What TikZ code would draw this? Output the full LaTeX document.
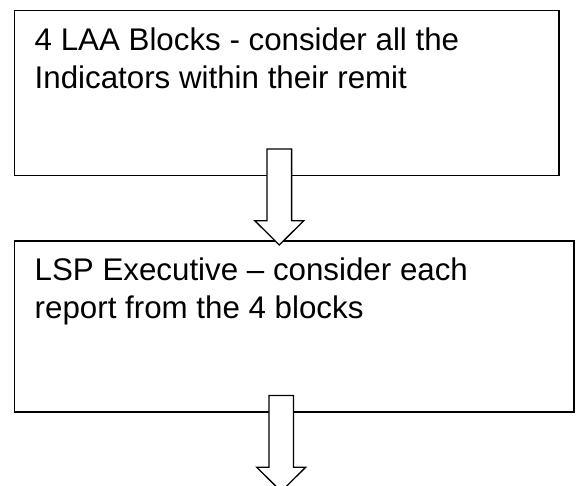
\documentclass[tikz,border=0pt]{standalone}
\usepackage{fontspec}
\setmainfont{Liberation Sans}
\begin{document}
\begin{tikzpicture}[x=1pt,y=1pt,
  boxnode/.style={draw=black,line width=1.6pt,fill=white,rectangle,inner sep=0pt},
  textnode/.style={anchor=base west,align=left,inner sep=0pt,font=\fontsize{31.3}{38.2}\selectfont},
  downarrow/.pic={\draw[line width=1.3pt,fill=white,line join=miter]
     (0,0) -- (-24.5,24.3) -- (-12.3,24.3) -- (-12.3,96) -- (12.3,96) -- (12.3,24.3) -- (24.5,24.3) -- cycle;}]
\useasboundingbox (0,0) rectangle (580,486);
\node[boxnode,minimum width=544.5pt,minimum height=165pt] (b1) at (286.75,392.8) {};
\node[boxnode,minimum width=559.5pt,minimum height=171.3pt] (b2) at (294.25,159.35) {};
\node[textnode] (t1) at (34.5,397) {4 LAA Blocks - consider all the\\Indicators within their remit};
\node[textnode] (t2) at (34.5,167) {LSP Executive – consider each\\report from the 4 blocks};
\coordinate (tip1) at (279.3,241);
\coordinate (tip2) at (281.2,-5.5);
\pic at (tip1) {downarrow};
\pic at (tip2) {downarrow};
\end{tikzpicture}
\end{document}
